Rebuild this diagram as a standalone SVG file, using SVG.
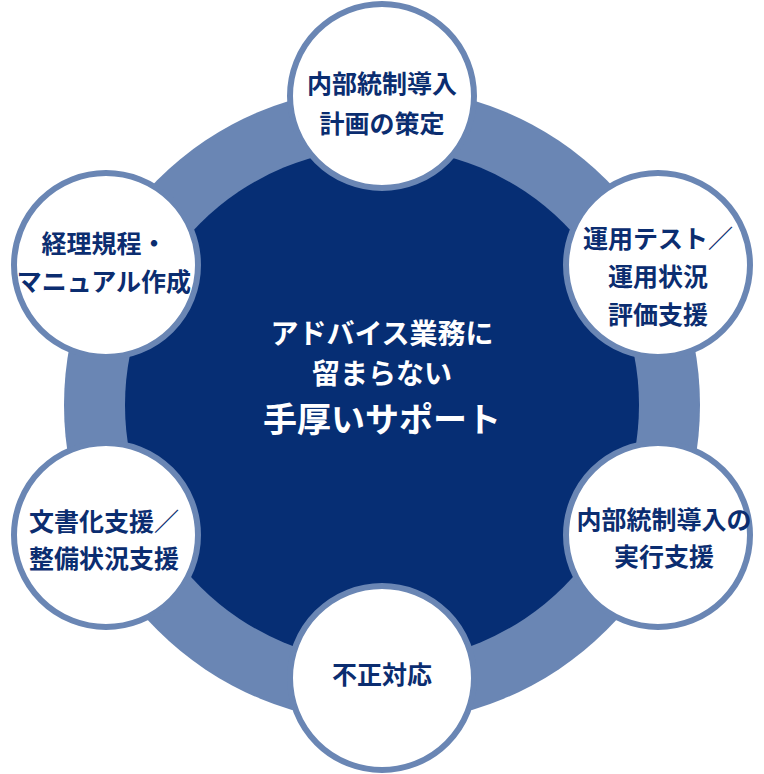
<svg xmlns="http://www.w3.org/2000/svg" width="764" height="774" viewBox="0 0 764 774">
<style>
.n circle{fill:#fff;stroke:#6a86b4;stroke-width:6}
.t{font-family:"Noto Sans CJK JP",sans-serif;font-weight:bold;fill:#0b2d70;font-size:25px;text-anchor:middle}
.c{font-family:"Noto Sans CJK JP",sans-serif;font-weight:bold;fill:#fff;text-anchor:middle}
</style>
<circle cx="382" cy="405" r="318" fill="#6a86b4"/>
<circle cx="382" cy="405" r="257" fill="#062e74"/>
<g id="center"><text class="c" x="382" y="344" font-size="28">アドバイス業務に</text><text class="c" x="382" y="384" font-size="28">留まらない</text><text class="c" x="382" y="432" font-size="34">手厚いサポート</text></g>
<g id="connectors"></g>
<g id="n1" class="n"><circle cx="382" cy="96" r="92"/><text class="t" x="382" y="93">内部統制導入</text><text class="t" x="382" y="133">計画の策定</text></g>
<g id="n2" class="n"><circle cx="658" cy="265" r="92"/><text class="t" x="658" y="248">運用テスト／</text><text class="t" x="658" y="286">運用状況</text><text class="t" x="658" y="324">評価支援</text></g>
<g id="n3" class="n"><circle cx="658" cy="535" r="92"/><text class="t" x="664" y="529">内部統制導入の</text><text class="t" x="664" y="566">実行支援</text></g>
<g id="n4" class="n"><circle cx="382" cy="678" r="92"/><text class="t" x="382" y="684">不正対応</text></g>
<g id="n5" class="n"><circle cx="106" cy="535" r="92"/><text class="t" x="104" y="531">文書化支援／</text><text class="t" x="104" y="568">整備状況支援</text></g>
<g id="n6" class="n"><circle cx="106" cy="265" r="92"/><text class="t" x="104" y="253">経理規程・</text><text class="t" x="104" y="291">マニュアル作成</text></g>
</svg>
